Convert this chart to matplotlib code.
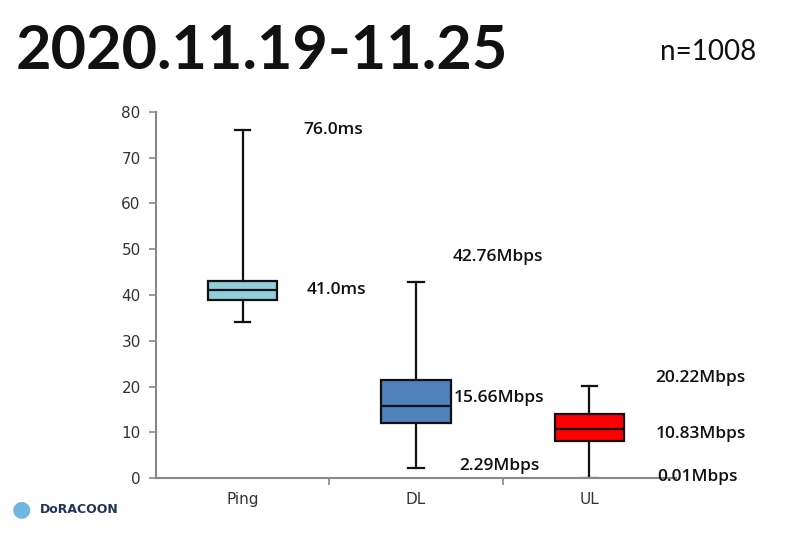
import matplotlib
matplotlib.use("Agg")
import matplotlib.pyplot as plt

# box statistics
cats = ["Ping", "DL", "UL"]
whislo = [34.0, 2.29, 0.01]
q1 = [39.0, 12.0, 8.0]
med = [41.0, 15.66, 10.83]
q3 = [43.0, 21.5, 14.0]
whishi = [76.0, 42.76, 20.22]
colors = ["#92cddc", "#4f81bd", "#ff0000"]

# annotation texts (text, category, y where it sits)
labels = [
    ("76.0ms", 1, 76.0), ("41.0ms", 1, 41.0),
    ("42.76Mbps", 2, 48.3), ("15.66Mbps", 2, 17.5), ("2.29Mbps", 2, 2.6),
    ("20.22Mbps", 3, 21.9), ("10.83Mbps", 3, 9.6), ("0.01Mbps", 3, 0.2),
]
label_dx = [0.35, 0.37, 0.21, 0.22, 0.25, 0.38, 0.38, 0.39]

fig = plt.figure(figsize=(8, 5.33), dpi=100)
ax = fig.add_axes([0.195, 0.103, 0.65, 0.687])

stats = []
for i, c in enumerate(cats):
    stats.append(dict(label=c, whislo=whislo[i], q1=q1[i], med=med[i],
                      q3=q3[i], whishi=whishi[i], fliers=[]))

bp = ax.bxp(stats, positions=[1, 2, 3], widths=0.4, patch_artist=True,
            showfliers=False, capwidths=0.09,
            boxprops=dict(linewidth=1.6, edgecolor="#111111"),
            medianprops=dict(color="#111111", linewidth=1.6),
            whiskerprops=dict(color="#111111", linewidth=1.6),
            capprops=dict(color="#111111", linewidth=1.6))
for patch, col in zip(bp["boxes"], colors):
    patch.set_facecolor(col)

ax.set_xlim(0.5, 3.5)
ax.set_ylim(0, 80)
ax.set_yticks(range(0, 81, 10))
for s in ["top", "right"]:
    ax.spines[s].set_visible(False)
for s in ["left", "bottom"]:
    ax.spines[s].set_color("#888888")
    ax.spines[s].set_linewidth(1.5)
ax.tick_params(axis="y", colors="#888888", labelcolor="#333333", labelsize=11,
               length=5, width=1.2, pad=6)
ax.tick_params(axis="x", which="major", length=0, labelcolor="#333333",
               labelsize=11, pad=10)
ax.set_xticks([1.5, 2.5], minor=True)
ax.tick_params(axis="x", which="minor", length=5, width=1.2, colors="#888888")

for (txt, pos, y), dx in zip(labels, label_dx):
    ax.text(pos + dx, y, txt, fontsize=12.5, fontweight="semibold",
            color="#111111", va="center", ha="left", clip_on=False,
            family=["Open Sans", "DejaVu Sans"])

fig.text(0.02, 0.905, "2020.11.19-11.25", fontsize=44, fontweight="bold",
         family=["Lato", "DejaVu Sans"], color="#111111",
         va="center", ha="left")
fig.text(0.825, 0.902, "n=1008", fontsize=20, color="#111111",
         family=["Lato", "DejaVu Sans"], va="center", ha="left")
fig.text(0.015, 0.045, "\u25cf", fontsize=16, color="#6fb7e0", va="center", ha="left")
fig.text(0.05, 0.045, "DoRACOON", fontsize=9, fontweight="bold", color="#223355",
         va="center", ha="left")

fig.savefig("out.png", dpi=100)
